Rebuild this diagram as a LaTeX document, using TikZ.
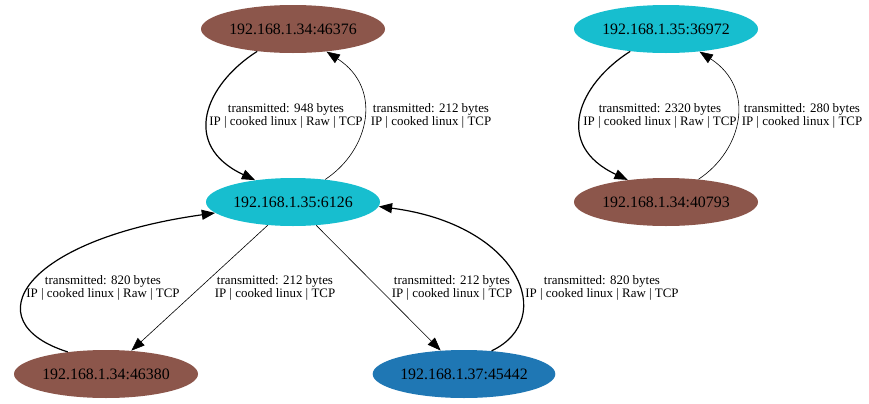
\documentclass[tikz,border=0pt]{standalone}
\usepackage{fontspec}
\setmainfont{Liberation Serif}
\usetikzlibrary{shapes.geometric,arrows.meta}
\definecolor{hostbrown}{HTML}{8C564B}
\definecolor{hostcyan}{HTML}{17BECF}
\definecolor{hostblue}{HTML}{1F77B4}
\tikzset{
	host/.style={ellipse, fill=#1, minimum width=138pt, minimum height=36pt, inner sep=0pt, font=\fontsize{11.9}{13}\selectfont},
	flowlabel/.style={align=center, inner sep=0pt, font=\fontsize{9.7}{9.75}\selectfont},
	heavy/.style={line width=0.9pt, -{Triangle[length=10pt,width=7.5pt]}},
	light/.style={line width=0.45pt, -{Triangle[length=10pt,width=7.5pt]}}
}
\begin{document}
\begin{tikzpicture}[x=0.75pt, y=-0.75pt]
			\useasboundingbox (0,0) rectangle (869,404);
			
			%Hosts
			\node[host=hostbrown] (a46376) at (293,29) {192.168.1.34:46376};
			\node[host=hostcyan, minimum width=130.5pt] (b6126) at (293,202) {192.168.1.35:6126};
			\node[host=hostcyan] (c36972) at (666,29) {192.168.1.35:36972};
			\node[host=hostbrown] (d40793) at (666,202) {192.168.1.34:40793};
			\node[host=hostbrown] (e46380) at (106,374) {192.168.1.34:46380};
			\node[host=hostblue, minimum width=137pt] (f45442) at (464,374) {192.168.1.37:45442};
			
			%Flows between 46376 and 6126
			\draw[heavy] (a46376.212) .. controls +(-52,33) and +(-75,-35) .. (b6126.150);
			\draw[light] (b6126.35) .. controls +(44,-29) and +(57,37) .. (a46376.326);
			\node[flowlabel] (lbl948) at (286,115.5) {transmitted: 948 bytes\\IP | cooked linux | Raw | TCP};
			\node[flowlabel] (lbl212a) at (431,115.5) {transmitted: 212 bytes\\IP | cooked linux | TCP};
			
			%Flows between 36972 and 40793
			\draw[heavy] (c36972.212) .. controls +(-52,33) and +(-75,-35) .. (d40793.150);
			\draw[light] (d40793.35) .. controls +(44,-29) and +(57,37) .. (c36972.326);
			\node[flowlabel] (lbl2320) at (660,115.5) {transmitted: 2320 bytes\\IP | cooked linux | Raw | TCP};
			\node[flowlabel] (lbl280) at (802,115.5) {transmitted: 280 bytes\\IP | cooked linux | TCP};
			
			%Flows between 46380 and 6126
			\draw[heavy] (e46380.150) .. controls +(-95,-30) and +(-193,27) .. (b6126.188);
			\draw[light] (b6126) -- (e46380);
			\node[flowlabel] (lbl820a) at (103,287.5) {transmitted: 820 bytes\\IP | cooked linux | Raw | TCP};
			\node[flowlabel] (lbl212b) at (275,287.5) {transmitted: 212 bytes\\IP | cooked linux | TCP};
			
			%Flows between 45442 and 6126
			\draw[light] (b6126) -- (f45442);
			\draw[heavy] (f45442.40) .. controls +(67,-32) and +(140,18) .. (b6126.357);
			\node[flowlabel] (lbl212c) at (452,287.5) {transmitted: 212 bytes\\IP | cooked linux | TCP};
			\node[flowlabel] (lbl820b) at (602,287.5) {transmitted: 820 bytes\\IP | cooked linux | Raw | TCP};
		\end{tikzpicture}
\end{document}
